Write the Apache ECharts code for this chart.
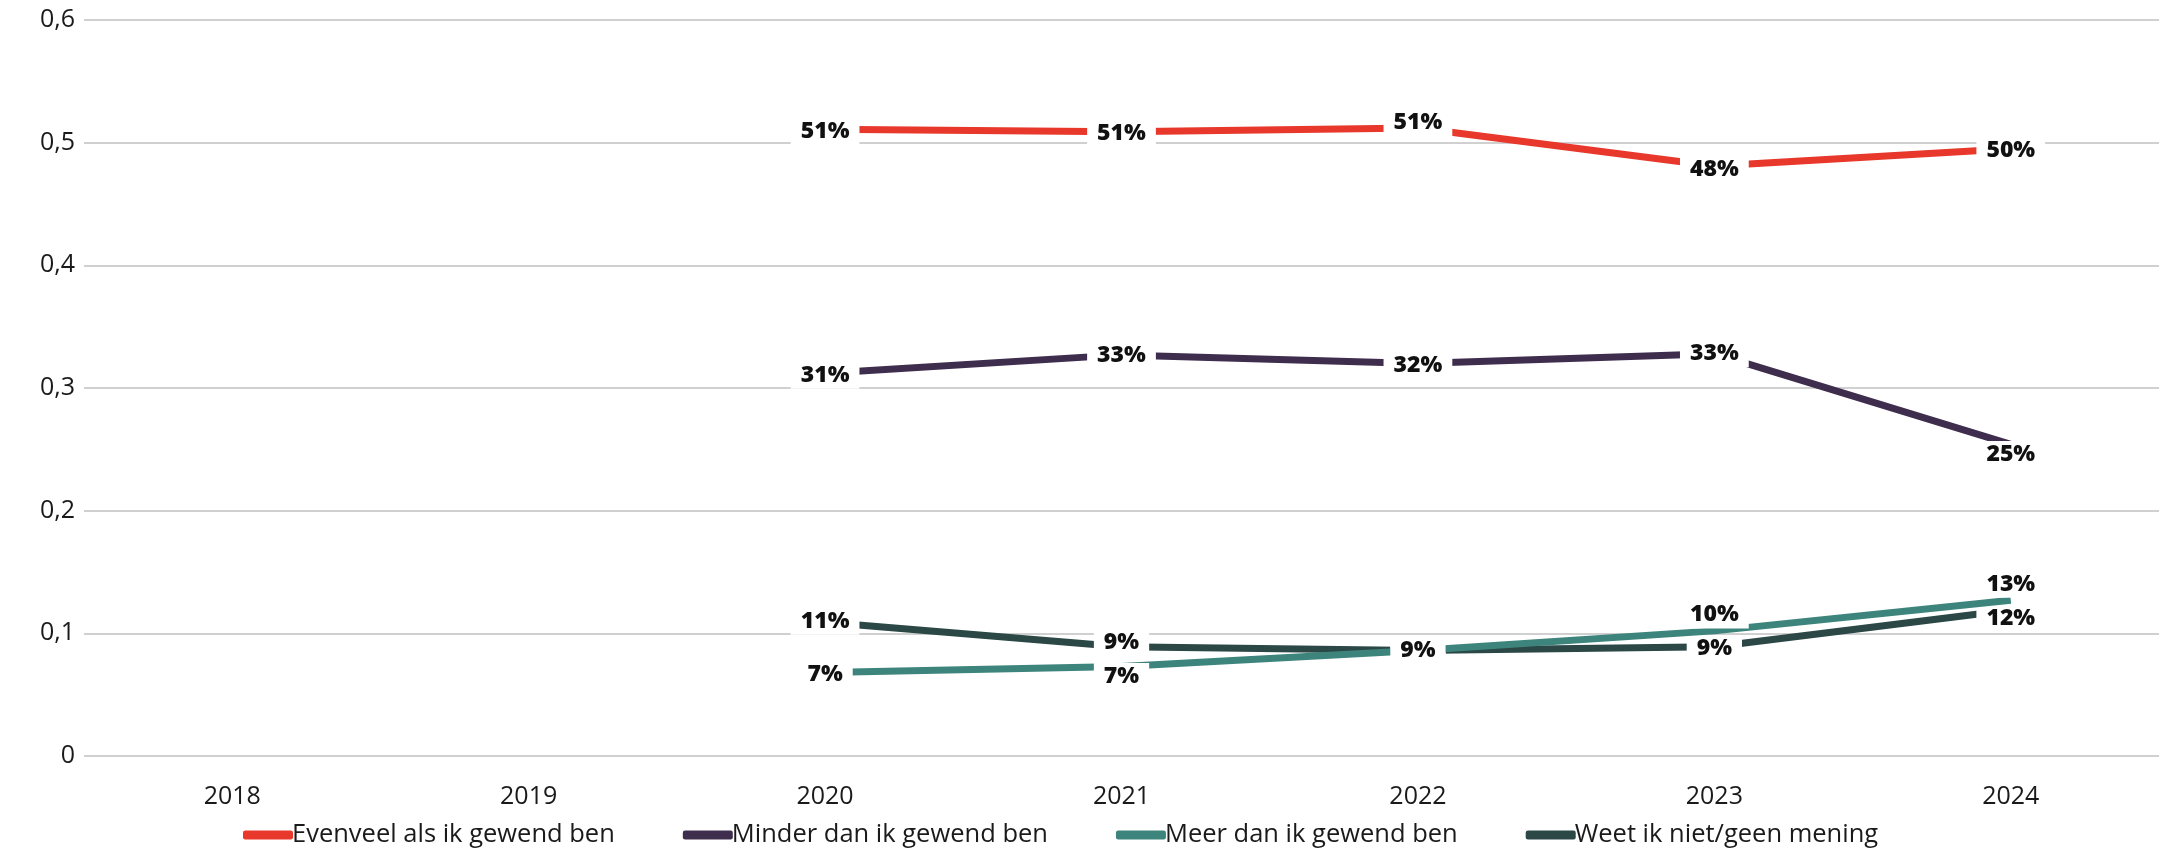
<!DOCTYPE html>
<html>
<head>
<meta charset="utf-8">
<script src="https://cdn.jsdelivr.net/npm/echarts@6/dist/echarts.min.js"></script>
<style>
html,body{margin:0;padding:0;background:#fff;}
#chart{width:2159px;height:851px;}
</style>
</head>
<body>
<div id="chart"></div>
<script>
const years = ['2018','2019','2020','2021','2022','2023','2024'];
const seriesNames = ['Evenveel als ik gewend ben','Minder dan ik gewend ben','Meer dan ik gewend ben','Weet ik niet/geen mening'];
const evenveel = [null, null, 0.511, 0.509, 0.512, 0.481, 0.495];
const minder   = [null, null, 0.312, 0.327, 0.320, 0.328, 0.254];
const meer     = [null, null, 0.068, 0.073, 0.086, 0.102, 0.127];
const weetNiet = [null, null, 0.109, 0.089, 0.086, 0.089, 0.119];
const yTicks = [0, 0.1, 0.2, 0.3, 0.4, 0.5, 0.6];

// label offsets (px) per point, kept separate from data
const offEvenveel = [[0,0],[0,0],[0,2],[0,2],[0,-5],[0,3],[0,2]];
const offMinder   = [[0,0],[0,0],[0,2],[0,1],[0,2],[0,0],[0,10]];
const offMeer     = [[0,0],[0,0],[0,2],[0,10],[0,0],[0,-16],[0,-16]];
const offWeet     = [[0,0],[0,0],[0,-1],[0,-4],[0,2],[0,2],[0,8]];

const colors = ['#E8372B','#3F2D4D','#3D857C','#2B4746'];
const FONT = 'Open Sans';

function mk(name, vals, offs, color, z){
  return {
    name: name,
    type: 'line',
    data: vals.map((v,i)=>({value:v, label:{offset:offs[i]}})),
    connectNulls: false,
    symbol: 'circle',
    symbolSize: 0.1,
    showSymbol: true,
    itemStyle:{color:color},
    lineStyle:{color:color, width:7},
    z: z,
    label:{
      show:true,
      position:'inside',
      formatter:(p)=> p.value==null ? '' : Math.round(p.value*100)+'%',
      color:'#111',
      fontFamily:FONT,
      fontWeight:800,
      fontSize:23,
      backgroundColor:'#fff',
      padding:[2,10,2,10]
    },
    emphasis:{disabled:true}
  };
}

const chart = echarts.init(document.getElementById('chart'));
chart.setOption({
  animation:false,
  color: colors,
  grid:{left:84, right:-10, top:20, bottom:95, containLabel:false},
  legend:{
    bottom:-2,
    left:238,
    itemWidth:50,
    itemHeight:9,
    itemGap:68,
    icon:'roundRect',
    textStyle:{fontFamily:FONT, fontSize:25.5, fontWeight:500, color:'#1a1a1a', padding:[0,0,0,-6]},
    data: seriesNames.map((n,i)=>({name:n, itemStyle:{color:colors[i]}}))
  },
  xAxis:{
    type:'category',
    data: years,
    boundaryGap:true,
    axisLine:{show:false},
    axisTick:{show:false},
    axisLabel:{fontFamily:FONT, fontSize:25, fontWeight:500, color:'#1a1a1a', margin:28}
  },
  yAxis:{
    type:'value',
    min:0, max:0.6, interval:0.1,
    axisLine:{show:false},
    axisTick:{show:false},
    splitLine:{lineStyle:{color:'#d0d0d0', width:2}},
    axisLabel:{
      fontFamily:FONT, fontSize:25, fontWeight:500, color:'#1a1a1a', margin:9,
      formatter:(v)=>{ const t = yTicks.find(x=>Math.abs(x-v)<1e-9); return (t===0?'0':String(+(t!==undefined?t:v).toFixed(1)).replace('.',',')); }
    }
  },
  series:[
    mk(seriesNames[0], evenveel, offEvenveel, colors[0], 5),
    mk(seriesNames[1], minder, offMinder, colors[1], 4),
    mk(seriesNames[2], meer, offMeer, colors[2], 3),
    mk(seriesNames[3], weetNiet, offWeet, colors[3], 2)
  ]
});
</script>
</body>
</html>
